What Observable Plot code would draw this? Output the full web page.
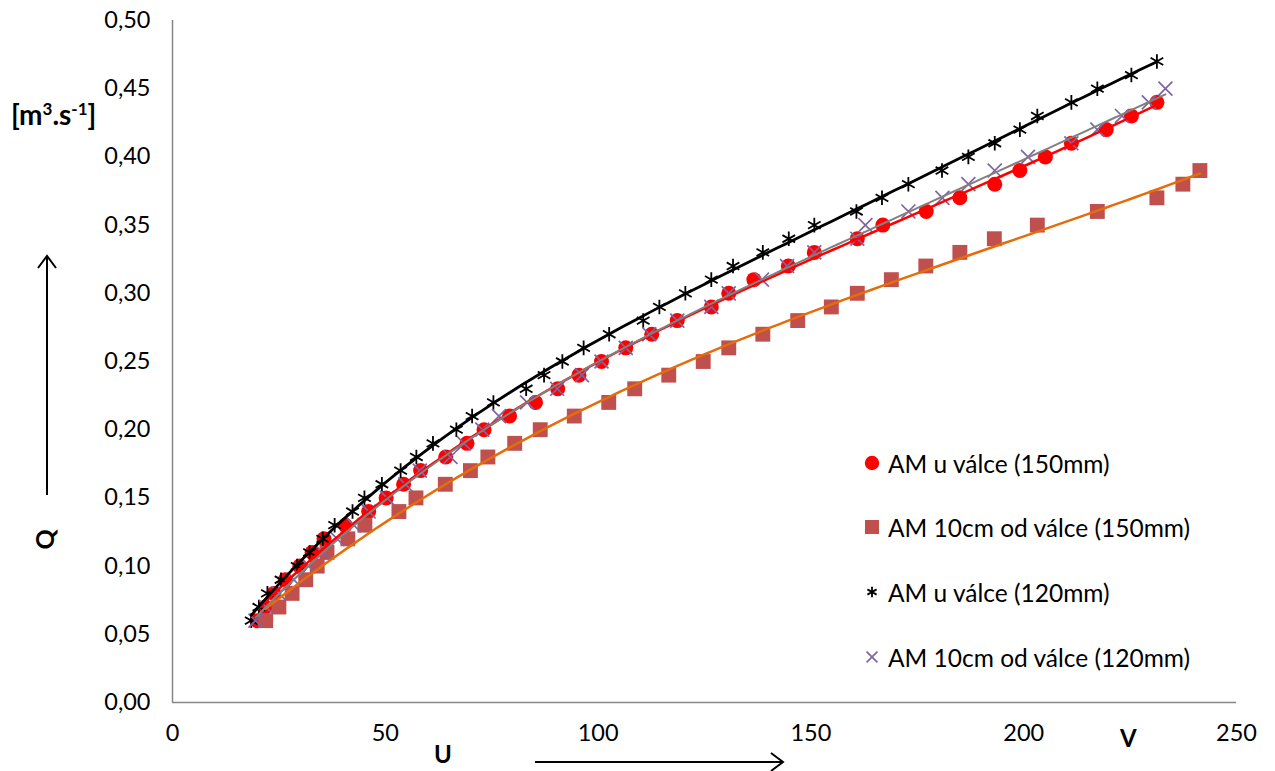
<!DOCTYPE html>
<html>
<head>
<meta charset="utf-8">
<script src="https://cdn.jsdelivr.net/npm/d3@7"></script>
<script src="https://cdn.jsdelivr.net/npm/@observablehq/plot@0.6"></script>
<style>
  body { margin: 0; background: #fff; }
  #wrap { position: relative; width: 1275px; height: 771px; font-family: Lato, "Open Sans", sans-serif; color: #000; }
  #wrap > svg.plot { position: absolute; left: 0; top: 0; }
  .title { position: absolute; font-weight: bold; font-size: 25px; line-height: 1; white-space: nowrap; }
  .title sup { font-size: 17px; }
  .legend { position: absolute; left: 864px; top: 0; font-size: 24.5px; }
  .legend .item { position: absolute; left: 0; display: flex; align-items: center; white-space: nowrap; height: 24px; }
  .legend svg { margin-right: 8px; overflow: visible; }
  #deco { position: absolute; left: 0; top: 0; pointer-events: none; }
</style>
</head>
<body>
<div id="wrap"></div>
<script>
// Flow rate Q [m3/s] against U, four measurement series
const seriesNames = [
  "AM u válce (150mm)",
  "AM 10cm od válce (150mm)",
  "AM u válce (120mm)",
  "AM 10cm od válce (120mm)"
];

// AM u válce (150mm)
const u150near = [19.9, 21.8, 23.8, 26.5, 29.9, 32.8, 35.6, 40.6, 46.1, 50.2, 54.3, 58.3, 64.2, 69.2, 73.2, 79.2, 85.3, 90.5, 95.5, 100.8, 106.5, 112.6, 118.6, 126.6, 130.7, 136.6, 144.7, 150.8, 160.9, 166.9, 177.1, 185.0, 193.2, 199.1, 205.1, 211.2, 219.4, 225.3, 231.3];
const q150near = [0.06, 0.07, 0.08, 0.09, 0.10, 0.11, 0.12, 0.13, 0.14, 0.15, 0.16, 0.17, 0.18, 0.19, 0.20, 0.21, 0.22, 0.23, 0.24, 0.25, 0.26, 0.27, 0.28, 0.29, 0.30, 0.31, 0.32, 0.33, 0.34, 0.35, 0.36, 0.37, 0.38, 0.39, 0.40, 0.41, 0.42, 0.43, 0.44];

// AM 10cm od válce (150mm)
const u150far = [21.9, 25.0, 28.1, 31.3, 34.0, 36.3, 41.2, 45.2, 53.2, 57.2, 64.1, 70.0, 74.1, 80.4, 86.4, 94.4, 102.5, 108.6, 116.6, 124.7, 130.7, 138.7, 146.9, 154.8, 160.9, 168.9, 177.0, 185.0, 193.1, 203.2, 217.3, 231.3, 237.4, 241.4];
const q150far = [0.06, 0.07, 0.08, 0.09, 0.10, 0.11, 0.12, 0.13, 0.14, 0.15, 0.16, 0.17, 0.18, 0.19, 0.20, 0.21, 0.22, 0.23, 0.24, 0.25, 0.26, 0.27, 0.28, 0.29, 0.30, 0.31, 0.32, 0.33, 0.34, 0.35, 0.36, 0.37, 0.38, 0.39];

// AM u válce (120mm)
const u120near = [18.5, 20.3, 22.3, 25.5, 29.3, 32.2, 35.3, 38.1, 42.3, 45.1, 49.2, 53.6, 57.3, 61.2, 66.7, 70.4, 75.4, 83.1, 87.3, 91.6, 96.6, 102.6, 110.6, 114.4, 120.5, 126.6, 131.7, 138.7, 144.8, 150.8, 160.7, 166.7, 172.9, 180.8, 187.0, 193.2, 199.1, 203.2, 211.2, 217.3, 225.3, 231.3];
const q120near = [0.06, 0.07, 0.08, 0.09, 0.10, 0.11, 0.12, 0.13, 0.14, 0.15, 0.16, 0.17, 0.18, 0.19, 0.20, 0.21, 0.22, 0.23, 0.24, 0.25, 0.26, 0.27, 0.28, 0.29, 0.30, 0.31, 0.32, 0.33, 0.34, 0.35, 0.36, 0.37, 0.38, 0.39, 0.40, 0.41, 0.42, 0.43, 0.44, 0.45, 0.46, 0.47];

// AM 10cm od válce (120mm)
const u120far = [19.5, 22.0, 25.0, 28.5, 32.0, 35.3, 38.7, 42.6, 46.1, 50.4, 54.7, 58.1, 65.3, 68.5, 72.8, 76.7, 83.3, 90.4, 96.2, 100.8, 106.5, 112.0, 118.6, 126.6, 130.7, 138.5, 144.4, 150.8, 160.9, 162.8, 172.9, 180.9, 187.0, 193.2, 201.0, 211.2, 217.3, 223.1, 229.4, 233.3];
const q120far = [0.06, 0.07, 0.08, 0.09, 0.10, 0.11, 0.12, 0.13, 0.14, 0.15, 0.16, 0.17, 0.18, 0.19, 0.20, 0.21, 0.22, 0.23, 0.24, 0.25, 0.26, 0.27, 0.28, 0.29, 0.30, 0.31, 0.32, 0.33, 0.34, 0.35, 0.36, 0.37, 0.38, 0.39, 0.40, 0.41, 0.42, 0.43, 0.44, 0.45];

// Axis tick values
const xTicks = [0, 50, 100, 150, 200, 250];
const yTicks = [0, 0.05, 0.10, 0.15, 0.20, 0.25, 0.30, 0.35, 0.40, 0.45, 0.50];

const toRows = (us, qs) => us.map((u, i) => ({U: u, Q: qs[i]}));
const rows = [
  toRows(u150near, q150near),
  toRows(u150far, q150far),
  toRows(u120near, q120near),
  toRows(u120far, q120far)
];

// Least-squares polynomial trend Q(U), drawn across each series' own U range
function polyFit(xs, ys, deg) {
  const n = deg + 1;
  const A = Array.from({length: n}, () => new Array(n + 1).fill(0));
  xs.forEach((x, k) => {
    for (let i = 0; i < n; i++) {
      for (let j = 0; j < n; j++) A[i][j] += Math.pow(x, i + j);
      A[i][n] += ys[k] * Math.pow(x, i);
    }
  });
  for (let c = 0; c < n; c++) {
    let p = c;
    for (let r = c + 1; r < n; r++) if (Math.abs(A[r][c]) > Math.abs(A[p][c])) p = r;
    [A[c], A[p]] = [A[p], A[c]];
    for (let r = 0; r < n; r++) {
      if (r === c) continue;
      const f = A[r][c] / A[c][c];
      for (let j = c; j <= n; j++) A[r][j] -= f * A[c][j];
    }
  }
  const coef = A.map((row, i) => row[n] / row[i]);
  return x => coef.reduce((s, c, i) => s + c * Math.pow(x, i), 0);
}

// marker, trend-line styling and trend order per series
const styles = [
  {symbol: "circle",   r: 7.5, fill: "#FF0000", stroke: "none",    sw: 0,   line: "#FF0000", lw: 2.5, order: 4},
  {symbol: "square",   r: 8.4, fill: "#C0504D", stroke: "none",    sw: 0,   line: "#E46C0A", lw: 2.5, order: 3},
  {symbol: "asterisk", r: 6.9, fill: "none",    stroke: "#000000", sw: 1.8, line: "#000000", lw: 2.8, order: 4},
  {symbol: "times",    r: 6.4, fill: "none",    stroke: "#8064A2", sw: 1.7, line: "#808080", lw: 2,   order: 4}
];

const trend = rows.map((data, i) => {
  const f = polyFit(data.map(d => d.U / 100), data.map(d => d.Q), styles[i].order);
  const [u0, u1] = d3.extent(data, d => d.U);
  const us = d3.range(0, 101).map(k => u0 + (u1 - u0) * k / 100);
  return us.map(u => ({U: u, Q: f(u / 100)}));
});

const comma = d => d3.format(".2f")(d).replace(".", ",");

const chart = Plot.plot({
  width: 1275,
  height: 771,
  marginLeft: 172,
  marginRight: 39,
  marginTop: 20,
  marginBottom: 69,
  style: {fontFamily: "Lato, 'Open Sans', sans-serif", fontSize: "23.5px", color: "#000", background: "transparent"},
  x: {domain: [0, 250], ticks: xTicks, tickSize: 0, tickPadding: 22, label: null},
  y: {domain: [0, 0.5], ticks: yTicks, tickSize: 0, tickPadding: 22, tickFormat: comma, label: null},
  marks: [
    Plot.ruleY([0], {stroke: "#868686", strokeWidth: 1.5}),
    Plot.ruleX([0], {stroke: "#868686", strokeWidth: 1.5}),
    ...rows.map((data, i) => Plot.dot(data, {
      x: "U", y: "Q", symbol: styles[i].symbol, r: styles[i].r,
      fill: styles[i].fill, stroke: styles[i].stroke, strokeWidth: styles[i].sw
    })),
    ...trend.map((data, i) => Plot.line(data, {
      x: "U", y: "Q", curve: "linear", stroke: styles[i].line, strokeWidth: styles[i].lw
    }))
  ]
});
chart.classList.add("plot");

const wrap = document.getElementById("wrap");
wrap.appendChild(chart);

// legend inside the plot area
const legend = document.createElement("div");
legend.className = "legend";
const legendTops = [451, 515, 580, 645];
seriesNames.forEach((name, i) => {
  const item = document.createElement("div");
  item.className = "item";
  item.style.top = legendTops[i] + "px";
  const s = styles[i];
  const sym = d3.symbol(
    {circle: d3.symbolCircle, square: d3.symbolSquare, asterisk: d3.symbolAsterisk, times: d3.symbolTimes}[s.symbol],
    i === 0 ? Math.PI * 7.2 * 7.2 : i === 1 ? 14 * 14 : Math.PI * 5 * 5
  )();
  item.innerHTML = `<svg width="16" height="18" viewBox="-8 -9 16 18"><path d="${sym}" fill="${s.fill}" stroke="${s.stroke}" stroke-width="${s.sw}"/></svg><span>${name}</span>`;
  legend.appendChild(item);
});
wrap.appendChild(legend);

// axis titles
const addTitle = (html, css) => {
  const el = document.createElement("div");
  el.className = "title";
  el.innerHTML = html;
  Object.assign(el.style, css);
  wrap.appendChild(el);
};
addTitle("[m<sup>3</sup>.s<sup>-1</sup>]", {left: "11px", top: "100px", fontSize: "28px"});
addTitle("Q", {left: "34px", top: "527px", transform: "rotate(-90deg)"});
addTitle("U", {left: "434px", top: "742px", fontSize: "24px"});
addTitle("V", {left: "1120px", top: "726px", fontSize: "24px"});

// direction arrows beside the axes
const deco = d3.select(wrap).append("svg")
  .attr("id", "deco").attr("width", 1275).attr("height", 771);
deco.append("path").attr("d", "M47,495V256M38,268L47,256L56,268")
  .attr("fill", "none").attr("stroke", "#000").attr("stroke-width", 2);
deco.append("path").attr("d", "M535,762H783M771,753L783,762L771,771")
  .attr("fill", "none").attr("stroke", "#000").attr("stroke-width", 2);
</script>
</body>
</html>
